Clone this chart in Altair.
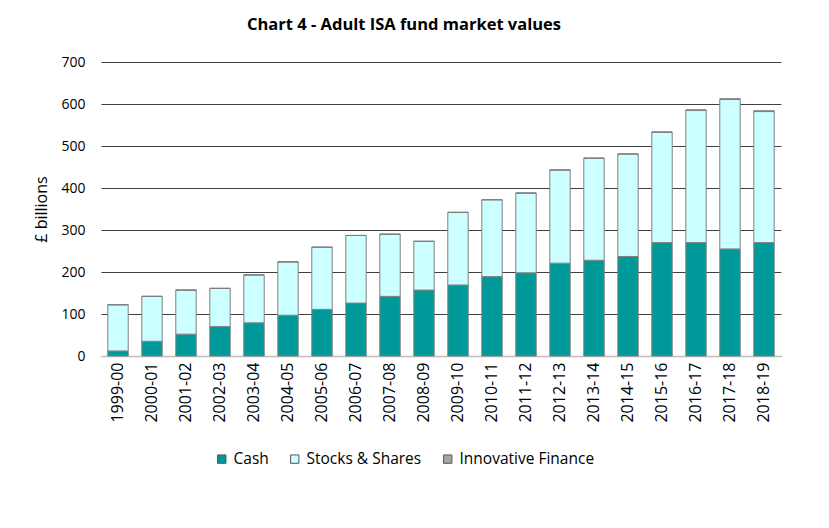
import pandas as pd
import altair as alt

years = [
    "1999-00", "2000-01", "2001-02", "2002-03", "2003-04", "2004-05", "2005-06",
    "2006-07", "2007-08", "2008-09", "2009-10", "2010-11", "2011-12", "2012-13",
    "2013-14", "2014-15", "2015-16", "2016-17", "2017-18", "2018-19",
]
# £ billions
cash = [12, 35, 52, 70, 79, 97, 111, 126, 142, 157, 169, 189, 198, 221, 228, 237, 270, 270, 255, 270]
stocks = [110, 107, 105, 91, 114, 127, 148, 161, 148, 116, 173, 183, 190, 222, 243, 244, 263, 315, 356, 312]
innovative = [0, 0, 0, 0, 0, 0, 0, 0, 0, 0, 0, 0, 0, 0, 0, 0, 0.3, 1, 1.5, 2]

series = ["Cash", "Stocks & Shares", "Innovative Finance"]
colours = ["#009999", "#CCFFFF", "#A6A6A6"]

rows = []
for i, y in enumerate(years):
    for k, (name, vals) in enumerate(zip(series, [cash, stocks, innovative])):
        rows.append({"year": y, "type": name, "value": vals[i], "stack": k})
df = pd.DataFrame(rows)

FONT = "Open Sans"

bars = alt.Chart(df).mark_bar(stroke="#7F7F7F", strokeWidth=1).encode(
    x=alt.X(
        "year:N",
        sort=years,
        title=None,
        scale=alt.Scale(paddingInner=0.4, paddingOuter=0.2),
        axis=alt.Axis(
            labelAngle=-90, labelFontSize=16, labelColor="#000", labelPadding=6,
            ticks=False, domainColor="#BFBFBF", domainWidth=1.5, labelFont=FONT,
        ),
    ),
    y=alt.Y(
        "value:Q",
        title="£ billions",
        scale=alt.Scale(domain=[0, 700]),
        axis=alt.Axis(
            values=[0, 100, 200, 300, 400, 500, 600, 700], ticks=False, domain=False,
            gridColor="#404040", gridWidth=1, labelFontSize=14, labelColor="#000",
            labelPadding=16, titleFontSize=16, titleFontWeight="normal", titleColor="#000",
            titlePadding=11, labelFont=FONT, titleFont=FONT,
        ),
    ),
    color=alt.Color(
        "type:N",
        sort=series,
        scale=alt.Scale(domain=series, range=colours),
        legend=alt.Legend(
            title=None, orient="none", direction="horizontal", legendX=113, legendY=389,
            symbolType="square", symbolSize=70, symbolStrokeColor="#555",
            symbolStrokeWidth=1, labelFontSize=15.5, labelColor="#000", labelFont=FONT,
            columnPadding=18, labelOffset=4,
        ),
    ),
    order=alt.Order("stack:Q", sort="ascending"),
)

chart = bars.properties(
    width=680,
    height=294,
    autosize=alt.AutoSizeParams(type="none"),
    padding={"left": 93, "top": 54, "right": 40, "bottom": 150},
    title=alt.TitleParams(
        "Chart 4 - Adult ISA fund market values",
        fontSize=16.5, fontWeight="bold", font=FONT, color="#000",
        anchor="middle", frame="group", dx=-37, offset=22,
    ),
).configure_view(stroke=None)

chart.save("out.html", embed_options={"renderer": "svg", "actions": False})
